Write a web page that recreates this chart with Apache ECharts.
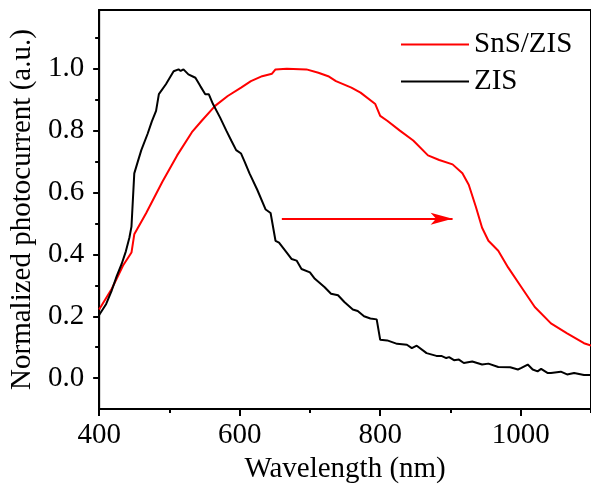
<!DOCTYPE html>
<html>
<head>
<meta charset="utf-8">
<script src="https://cdn.jsdelivr.net/npm/echarts@6/dist/echarts.min.js"></script>
<style>
  html, body { margin: 0; padding: 0; background: #fff; }
  #chart { width: 591px; height: 489px; }
</style>
</head>
<body>
<div id="chart"></div>
<script>
// Photocurrent spectra, normalized to each curve's maximum
const zisWavelength = [400, 410, 418, 425, 432, 438, 443, 446, 450, 455, 460, 469, 475, 481, 485, 495, 506, 513, 516, 520, 527, 537, 544, 551, 556, 562, 572, 581, 588, 595, 602, 607, 614, 625, 637, 644, 651, 656, 667, 674, 681, 688, 700, 707, 721, 730, 740, 749, 761, 768, 777, 786, 795, 800, 810, 824, 838, 845, 852, 866, 880, 887, 894, 898, 905, 912, 919, 931, 945, 954, 968, 985, 996, 1001, 1010, 1017, 1024, 1029, 1038, 1043, 1057, 1066, 1076, 1090, 1100];
const zisValue = [0.204, 0.24, 0.284, 0.33, 0.369, 0.41, 0.454, 0.49, 0.662, 0.70, 0.737, 0.79, 0.83, 0.864, 0.918, 0.95, 0.992, 0.998, 0.993, 0.998, 0.982, 0.971, 0.944, 0.918, 0.918, 0.886, 0.843, 0.80, 0.768, 0.737, 0.726, 0.70, 0.662, 0.609, 0.545, 0.534, 0.444, 0.438, 0.406, 0.385, 0.38, 0.353, 0.342, 0.321, 0.294, 0.273, 0.268, 0.246, 0.222, 0.217, 0.20, 0.193, 0.19, 0.124, 0.122, 0.111, 0.108, 0.097, 0.105, 0.081, 0.072, 0.072, 0.065, 0.068, 0.058, 0.06, 0.049, 0.054, 0.044, 0.047, 0.036, 0.035, 0.028, 0.033, 0.044, 0.028, 0.022, 0.03, 0.017, 0.017, 0.021, 0.012, 0.017, 0.01, 0.01];

const snsWavelength = [400, 418, 434, 446, 450, 467, 490, 511, 532, 546, 565, 583, 602, 616, 632, 646, 651, 667, 695, 712, 726, 737, 759, 772, 793, 800, 810, 828, 847, 868, 884, 903, 917, 926, 936, 945, 954, 968, 982, 1001, 1020, 1043, 1066, 1090, 1100];
const snsValue = [0.222, 0.289, 0.364, 0.406, 0.465, 0.534, 0.635, 0.72, 0.795, 0.832, 0.88, 0.912, 0.939, 0.96, 0.976, 0.984, 0.998, 1.0, 0.998, 0.987, 0.976, 0.96, 0.939, 0.923, 0.886, 0.848, 0.832, 0.80, 0.768, 0.72, 0.705, 0.691, 0.662, 0.625, 0.555, 0.486, 0.444, 0.412, 0.358, 0.294, 0.23, 0.177, 0.145, 0.113, 0.105];

const seriesNames = ['SnS/ZIS', 'ZIS'];
const xTickLabels = [400, 600, 800, 1000];
const xMinorTicks = [500, 700, 900, 1100];
const yTickLabels = [0.0, 0.2, 0.4, 0.6, 0.8, 1.0];
const yMinorTicks = [0.1, 0.3, 0.5, 0.7, 0.9, 1.1];
// red-shift arrow, in data coordinates (wavelength, photocurrent)
const arrowFrom = [660, 0.515];
const arrowTo = [903, 0.515];

const pairs = (xs, ys) => xs.map((x, i) => [x, ys[i]]);

const FONT = '"Liberation Serif", "Times New Roman", serif';
const chart = echarts.init(document.getElementById('chart'), null, { renderer: 'canvas' });

chart.setOption({
  animation: false,
  backgroundColor: '#fff',
  textStyle: { fontFamily: FONT, color: '#000' },
  grid: {
    left: 97, top: 10, right: -6, bottom: 76,
    show: true, borderColor: '#000', borderWidth: 2, backgroundColor: 'transparent'
  },
  legend: {
    left: 396, top: 25, orient: 'vertical',
    itemWidth: 68, itemHeight: 2, itemGap: 8,
    icon: 'rect',
    data: seriesNames,
    textStyle: { fontFamily: FONT, fontSize: 29, color: '#000', lineHeight: 29 }
  },
  xAxis: [
    {
      type: 'value', min: 400, max: 1100,
      name: 'Wavelength (nm)', nameLocation: 'middle', nameGap: 38,
      nameTextStyle: { fontFamily: FONT, fontSize: 29, color: '#000' },
      axisLine: { show: true, onZero: false, lineStyle: { color: '#000', width: 2 } },
      axisTick: { show: true, inside: false, length: 7, customValues: xTickLabels, lineStyle: { color: '#000', width: 2 } },
      axisLabel: { show: true, customValues: xTickLabels, margin: 12, fontFamily: FONT, fontSize: 29, color: '#000',
                   formatter: v => String(v) },
      splitLine: { show: false }
    },
    {
      type: 'value', min: 400, max: 1100, position: 'bottom',
      axisLine: { show: false, onZero: false },
      axisTick: { show: true, inside: false, length: 4, customValues: xMinorTicks, lineStyle: { color: '#000', width: 2 } },
      axisLabel: { show: false },
      splitLine: { show: false }
    }
  ],
  yAxis: [
    {
      type: 'value', min: -0.1, max: 1.19,
      name: 'Normalized photocurrent (a.u.)', nameLocation: 'middle', nameGap: 57, nameRotate: 90,
      nameTextStyle: { fontFamily: FONT, fontSize: 29, color: '#000' },
      axisLine: { show: true, onZero: false, lineStyle: { color: '#000', width: 2 } },
      axisTick: { show: true, inside: false, length: 6, customValues: yTickLabels, lineStyle: { color: '#000', width: 2 } },
      axisLabel: { show: true, customValues: yTickLabels, margin: 15, fontFamily: FONT, fontSize: 29, color: '#000',
                   formatter: v => Number(v).toFixed(1) },
      splitLine: { show: false }
    },
    {
      type: 'value', min: -0.1, max: 1.19, position: 'left',
      axisLine: { show: false, onZero: false },
      axisTick: { show: true, inside: false, length: 4, customValues: yMinorTicks, lineStyle: { color: '#000', width: 2 } },
      axisLabel: { show: false },
      splitLine: { show: false }
    }
  ],
  series: [
    {
      name: seriesNames[0], type: 'line', xAxisIndex: 0, yAxisIndex: 0,
      data: pairs(snsWavelength, snsValue),
      showSymbol: false, symbol: 'none',
      lineStyle: { color: '#ff0000', width: 2 }, itemStyle: { color: '#ff0000' },
      markLine: {
        silent: true, symbol: ['none', 'arrow'], symbolSize: [9, 22],
        label: { show: false },
        lineStyle: { color: '#ff0000', width: 2, type: 'solid' },
        data: [[{ coord: arrowFrom }, { coord: arrowTo }]]
      }
    },
    {
      name: seriesNames[1], type: 'line', xAxisIndex: 0, yAxisIndex: 0,
      data: pairs(zisWavelength, zisValue),
      showSymbol: false, symbol: 'none',
      lineStyle: { color: '#000', width: 2 }, itemStyle: { color: '#000' }
    }
  ]
});
</script>
</body>
</html>
